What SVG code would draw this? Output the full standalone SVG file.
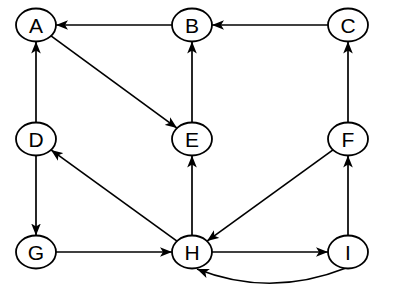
<svg xmlns="http://www.w3.org/2000/svg" width="396" height="301" viewBox="0 0 396 301">
<style>
.node ellipse{fill:#fff;stroke:#000;stroke-width:1.8}
.node text{font-family:"Liberation Sans",Arial,sans-serif;font-size:21px;fill:#000;text-anchor:middle;dominant-baseline:central}
.edges path{fill:none;stroke:#000;stroke-width:1.7;marker-end:url(#arr)}
</style>
<defs>
<marker id="arr" markerUnits="userSpaceOnUse" markerWidth="12" markerHeight="10" refX="10" refY="4" orient="auto" viewBox="0 0 10 8">
<path d="M0,0 L10,4 L0,8 L2.5,4 z" fill="#000"/>
</marker>
</defs>
<rect width="396" height="301" fill="#fff"/>
<g class="edges">
<path d="M172,25 L56,25"/>
<path d="M328,25 L212,25"/>
<path d="M56,252 L172,252"/>
<path d="M212,252 L328,252"/>
<path d="M36,122.5 L36,41.5"/>
<path d="M36,155.5 L36,235.5"/>
<path d="M192,122.5 L192,41.5"/>
<path d="M192,235.5 L192,155.5"/>
<path d="M348,122.5 L348,41.5"/>
<path d="M348,235.5 L348,155.5"/>
<path d="M51,35.9 L177,128.1"/>
<path d="M177,241.1 L51,149.9"/>
<path d="M333,149.9 L207,241.1"/>
<path d="M346,268 Q270,298 197,269"/>
</g>
<g id="A" class="node"><ellipse cx="36" cy="25" rx="20" ry="16.5"/><text x="36" y="25">A</text></g>
<g id="B" class="node"><ellipse cx="192" cy="25" rx="20" ry="16.5"/><text x="192" y="25">B</text></g>
<g id="C" class="node"><ellipse cx="348" cy="25" rx="20" ry="16.5"/><text x="348" y="25">C</text></g>
<g id="D" class="node"><ellipse cx="36" cy="139" rx="20" ry="16.5"/><text x="36" y="139">D</text></g>
<g id="E" class="node"><ellipse cx="192" cy="139" rx="20" ry="16.5"/><text x="192" y="139">E</text></g>
<g id="F" class="node"><ellipse cx="348" cy="139" rx="20" ry="16.5"/><text x="348" y="139">F</text></g>
<g id="G" class="node"><ellipse cx="36" cy="252" rx="20" ry="16.5"/><text x="36" y="252">G</text></g>
<g id="H" class="node"><ellipse cx="192" cy="252" rx="20" ry="16.5"/><text x="192" y="252">H</text></g>
<g id="I" class="node"><ellipse cx="348" cy="252" rx="20" ry="16.5"/><text x="348" y="252">I</text></g>
</svg>
